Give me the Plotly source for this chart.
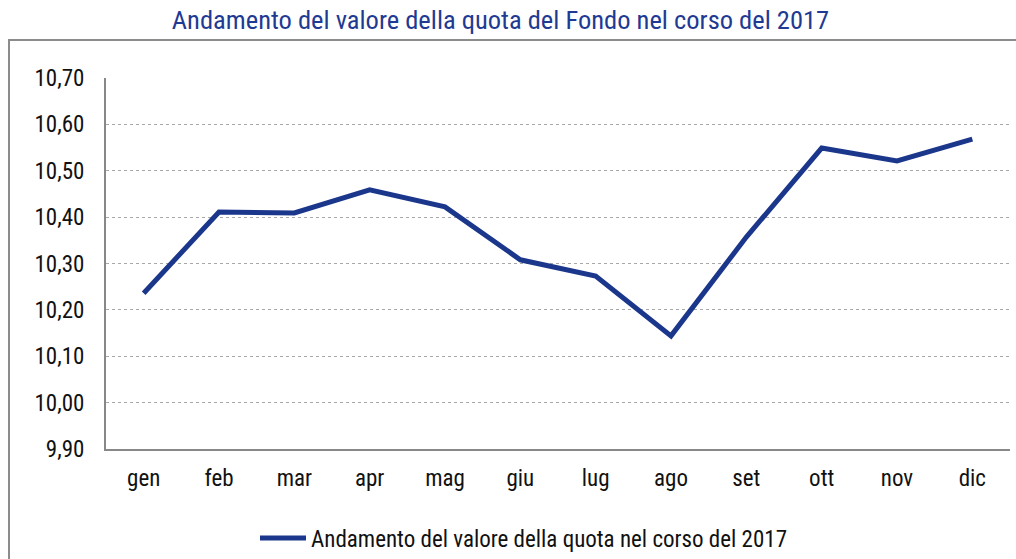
import plotly.graph_objects as go

months = ["gen", "feb", "mar", "apr", "mag", "giu", "lug", "ago", "set", "ott", "nov", "dic"]
values = [10.236, 10.411, 10.409, 10.459, 10.422, 10.308, 10.273, 10.144, 10.357, 10.549, 10.521, 10.568]
series_name = "Andamento del valore della quota nel corso del 2017"
title_text = "Andamento del valore della quota del Fondo nel corso del 2017"

# body margin is removed in the page, so figure pixels == page pixels
OFF = 0
W, H = 1016, 559

def fx(page_x):
    return page_x - OFF

def fy(page_y):
    return page_y - OFF

L = fx(106)
T = fy(78)
R = W - fx(1010)
B = H - fy(449)
pw, ph = W - L - R, H - T - B

def px_x(page_x):
    return (fx(page_x) - L) / pw

def px_y(page_y):
    return (H - B - fy(page_y)) / ph

FONT = "Liberation Sans Narrow, Arial Narrow, Roboto Condensed, Liberation Sans, sans-serif"
LINE_COLOR = "#1B378C"

fig = go.Figure()
fig.add_trace(go.Scatter(
    x=months, y=values, mode="lines", name=series_name,
    line=dict(color=LINE_COLOR, width=5),
))

fig.update_layout(
    width=W, height=H,
    margin=dict(l=L, r=R, t=T, b=B, autoexpand=False),
    paper_bgcolor="white", plot_bgcolor="white",
    separators=",.",
    font=dict(family=FONT, size=23, color="#111111"),
    title=dict(text=title_text, x=fx(500.5) / W, xanchor="center", y=1 - fy(20) / H, yanchor="middle",
               xref="container", yref="container", font=dict(family=FONT, size=26.5, color="#1F3A93")),
    showlegend=True,
    legend=dict(orientation="h", x=(fx(262) - 7) / W, xanchor="left", y=1 - fy(538) / H, yanchor="middle",
                xref="container", yref="container",
                font=dict(family=FONT, size=23, color="#111111"), itemwidth=46,
                bgcolor="rgba(0,0,0,0)"),
    xaxis=dict(type="category", range=[-0.5, 11.5], showgrid=False, showline=True,
               linecolor="#888888", linewidth=2, ticks="", tickfont=dict(size=23),
               ticklabelstandoff=7, automargin=False),
    yaxis=dict(range=[9.9, 10.7], dtick=0.1, tick0=9.9, tickformat=".2f", showgrid=True,
               gridcolor="#A8A8A8", griddash="dot", gridwidth=1, showline=True,
               linecolor="#888888", linewidth=2, ticks="", zeroline=False,
               tickfont=dict(size=23), ticklabelstandoff=15, automargin=False),
    shapes=[
        dict(type="line", xref="paper", yref="paper", x0=px_x(8), x1=px_x(1030), y0=px_y(40), y1=px_y(40),
             line=dict(color="#8C8C8C", width=2), layer="below"),
        dict(type="line", xref="paper", yref="paper", x0=px_x(9), x1=px_x(9), y0=px_y(40), y1=px_y(600),
             line=dict(color="#8C8C8C", width=2), layer="below"),
    ],
)

fig.write_html("out.html", config={"displayModeBar": False},
               post_script="document.body.style.margin='0';document.body.style.overflow='hidden';")
